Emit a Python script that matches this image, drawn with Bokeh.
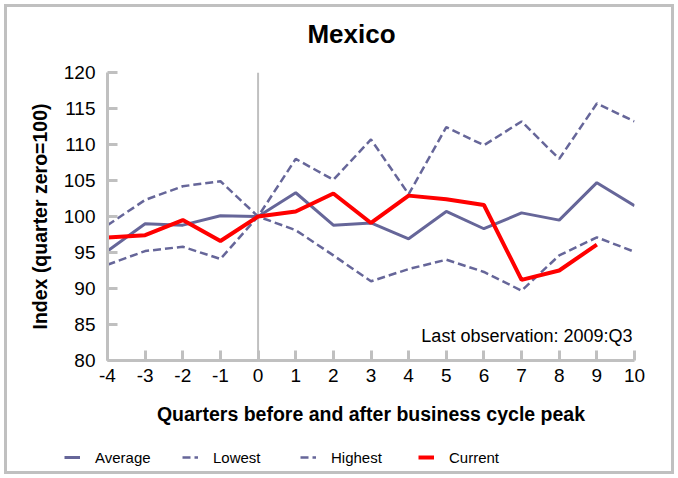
from bokeh.plotting import figure
from bokeh.layouts import column
from bokeh.models import (Range1d, FixedTicker, Span, Label, Legend, LegendItem)
from bokeh.embed import file_html
from bokeh.resources import INLINE

# ---- data ----
quarters = [-4, -3, -2, -1, 0, 1, 2, 3, 4, 5, 6, 7, 8, 9, 10]
average = [95.2, 99.0, 98.8, 100.1, 100.0, 103.3, 98.8, 99.1, 96.9, 100.7, 98.3, 100.5, 99.5, 104.7, 101.5]
lowest = [93.3, 95.2, 95.8, 94.1, 100.0, 98.1, 94.6, 91.0, 92.7, 94.0, 92.3, 89.7, 94.6, 97.1, 95.1]
highest = [98.8, 102.3, 104.2, 104.9, 100.0, 108.0, 105.1, 110.7, 103.1, 112.4, 109.9, 113.2, 108.0, 115.7, 113.2]
current_quarters = [-4, -3, -2, -1, 0, 1, 2, 3, 4, 5, 6, 7, 8, 9]
current = [97.1, 97.4, 99.5, 96.6, 100.0, 100.7, 103.2, 99.1, 102.9, 102.4, 101.6, 91.2, 92.5, 96.1]
y_ticks = [80, 85, 90, 95, 100, 105, 110, 115, 120]
x_tick_labels = ["-4", "-3", "-2", "-1", "0", "1", "2", "3", "4", "5", "6", "7", "8", "9", "10"]
series_names = ["Average", "Lowest", "Highest", "Current"]
title_text = "Mexico"
x_label = "Quarters before and after business cycle peak"
y_label = "Index (quarter zero=100)"
note_text = "Last observation: 2009:Q3"

SERIES_COLOR = "#666699"
AXIS_COLOR = "#c0c0c0"
FONT = "Liberation Sans"

styles = [dict(line_color=SERIES_COLOR, line_width=3),
          dict(line_color=SERIES_COLOR, line_width=2.5, line_dash="8 4"),
          dict(line_color=SERIES_COLOR, line_width=2.5, line_dash="8 4"),
          dict(line_color="#ff0000", line_width=4)]
series_x = [quarters, quarters, quarters, current_quarters]
series_y = [average, lowest, highest, current]


def strip(height):
    f = figure(width=678, height=height, output_backend="svg", toolbar_location=None,
               x_range=Range1d(0, 1), y_range=Range1d(0, 1), min_border=0,
               x_axis_type=None, y_axis_type=None, title=None)
    f.outline_line_color = None
    f.grid.visible = False
    f.background_fill_color = None
    f.border_fill_color = None
    f.frame_align = False
    return f


# title strip
tt = strip(50)
tt.add_layout(Label(x=351, y=17, x_units="screen", y_units="screen", text=title_text,
                    text_align="center", text_baseline="middle", text_font=FONT,
                    text_font_size="26px", text_font_style="bold", text_color="black"))

# main chart
p = figure(width=678, height=390, output_backend="svg", toolbar_location=None,
           x_range=Range1d(-4, 10), y_range=Range1d(80, 120), title=None,
           min_border_left=107, min_border_right=44, min_border_top=22, min_border_bottom=80)
p.outline_line_color = None
p.grid.visible = False
p.background_fill_color = "white"
p.border_fill_color = None
p.frame_align = False

for ax in (p.xaxis[0], p.yaxis[0]):
    ax.axis_line_color = AXIS_COLOR
    ax.axis_line_width = 3
    ax.major_tick_line_color = AXIS_COLOR
    ax.major_tick_line_width = 3
    ax.major_tick_in = 10
    ax.major_tick_out = 0
    ax.minor_tick_line_color = None
    ax.major_label_text_font = FONT
    ax.major_label_text_font_size = "19px"
    ax.major_label_text_color = "black"
    ax.axis_label_text_font = FONT
    ax.axis_label_text_font_size = "19.5px"
    ax.axis_label_text_font_style = "bold"
    ax.axis_label_text_color = "black"

p.xaxis[0].ticker = FixedTicker(ticks=quarters)
p.xaxis[0].major_label_overrides = {q: t for q, t in zip(quarters, x_tick_labels)}
p.yaxis[0].ticker = FixedTicker(ticks=y_ticks)
p.xaxis[0].axis_label = x_label
p.yaxis[0].axis_label = y_label
p.xaxis[0].major_label_standoff = 8
p.yaxis[0].major_label_standoff = 12
p.xaxis[0].axis_label_standoff = 18
p.yaxis[0].axis_label_standoff = 10

p.add_layout(Span(location=0, dimension="height", line_color=AXIS_COLOR, line_width=2, level="underlay"))

for xs, ys, st in zip(series_x, series_y, styles):
    p.line(xs, ys, **st)

p.add_layout(Label(x=525, y=25, x_units="screen", y_units="screen", text=note_text,
                   text_align="right", text_baseline="middle", text_font=FONT,
                   text_font_size="18px", text_color="black"))

# legend strip (its series lie outside its own ranges; only the legend shows)
lg = strip(38)
items = []
for name, xs, ys, st in zip(series_names, series_x, series_y, styles):
    r = lg.line(xs, ys, **st)
    items.append(LegendItem(label=name, renderers=[r]))
legend = Legend(items=items, orientation="horizontal", location=(64, 11),
                glyph_width=16, label_standoff=15, spacing=0, label_width=87,
                padding=0, margin=0, border_line_color=None, background_fill_alpha=0,
                label_text_font=FONT, label_text_font_size="15px",
                label_text_color="black")
lg.add_layout(legend, "center")

page = column(tt, p, lg, spacing=0)
page.styles = {"box-shadow": "inset 0 0 0 4px white, inset 0 0 0 7px #c0c0c0",
               "background-color": "white"}

open("out.html", "w").write(file_html(page, INLINE))
